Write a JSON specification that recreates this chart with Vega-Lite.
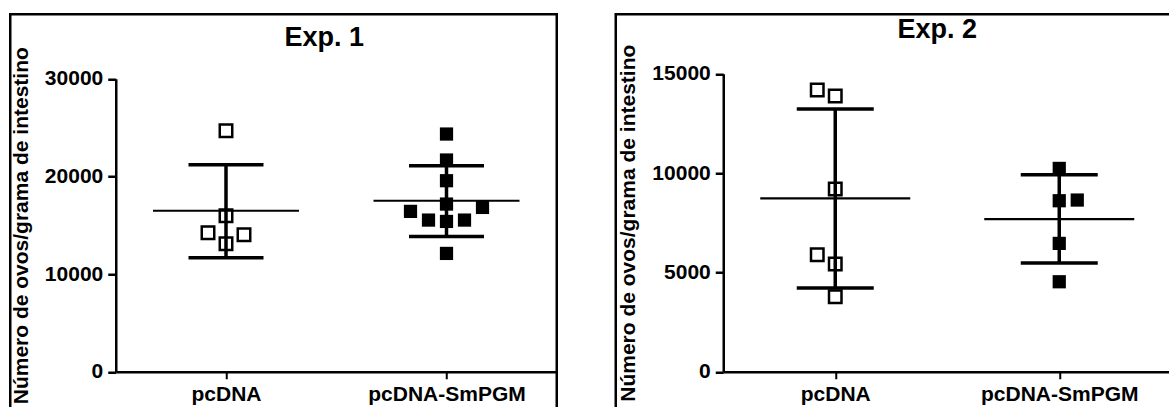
{
  "$schema": "https://vega.github.io/schema/vega-lite/v6.json",
  "background": "white",
  "padding": {"left": 8.25, "top": 12.25, "right": 0, "bottom": 0},
  "datasets": {
    "points": [
      {"exp": "Exp. 1", "group": "pcDNA", "eggs": 24676, "slot": 0},
      {"exp": "Exp. 1", "group": "pcDNA", "eggs": 15973, "slot": 0},
      {"exp": "Exp. 1", "group": "pcDNA", "eggs": 14232, "slot": -1},
      {"exp": "Exp. 1", "group": "pcDNA", "eggs": 14027, "slot": 1},
      {"exp": "Exp. 1", "group": "pcDNA", "eggs": 13106, "slot": 0},
      {"exp": "Exp. 1", "group": "pcDNA-SmPGM", "eggs": 24340, "slot": 0},
      {"exp": "Exp. 1", "group": "pcDNA-SmPGM", "eggs": 21680, "slot": 0},
      {"exp": "Exp. 1", "group": "pcDNA-SmPGM", "eggs": 19560, "slot": 0},
      {"exp": "Exp. 1", "group": "pcDNA-SmPGM", "eggs": 17170, "slot": 0},
      {"exp": "Exp. 1", "group": "pcDNA-SmPGM", "eggs": 16420, "slot": -2},
      {"exp": "Exp. 1", "group": "pcDNA-SmPGM", "eggs": 16825, "slot": 2},
      {"exp": "Exp. 1", "group": "pcDNA-SmPGM", "eggs": 15530, "slot": -1},
      {"exp": "Exp. 1", "group": "pcDNA-SmPGM", "eggs": 15390, "slot": 0},
      {"exp": "Exp. 1", "group": "pcDNA-SmPGM", "eggs": 15530, "slot": 1},
      {"exp": "Exp. 1", "group": "pcDNA-SmPGM", "eggs": 12115, "slot": 0},
      {"exp": "Exp. 2", "group": "pcDNA", "eggs": 14180, "slot": -1},
      {"exp": "Exp. 2", "group": "pcDNA", "eggs": 13878, "slot": 0},
      {"exp": "Exp. 2", "group": "pcDNA", "eggs": 9196, "slot": 0},
      {"exp": "Exp. 2", "group": "pcDNA", "eggs": 5890, "slot": -1},
      {"exp": "Exp. 2", "group": "pcDNA", "eggs": 5420, "slot": 0},
      {"exp": "Exp. 2", "group": "pcDNA", "eggs": 3775, "slot": 0},
      {"exp": "Exp. 2", "group": "pcDNA-SmPGM", "eggs": 10235, "slot": 0},
      {"exp": "Exp. 2", "group": "pcDNA-SmPGM", "eggs": 8608, "slot": 0},
      {"exp": "Exp. 2", "group": "pcDNA-SmPGM", "eggs": 8643, "slot": 1},
      {"exp": "Exp. 2", "group": "pcDNA-SmPGM", "eggs": 6460, "slot": 0},
      {"exp": "Exp. 2", "group": "pcDNA-SmPGM", "eggs": 4530, "slot": 0}
    ],
    "summary": [
      {"exp": "Exp. 1", "group": "pcDNA", "mean": 16485, "lo": 11672, "hi": 21195},
      {"exp": "Exp. 1", "group": "pcDNA-SmPGM", "mean": 17510, "lo": 13855, "hi": 21094},
      {"exp": "Exp. 2", "group": "pcDNA", "mean": 8725, "lo": 4212, "hi": 13222},
      {"exp": "Exp. 2", "group": "pcDNA-SmPGM", "mean": 7685, "lo": 5470, "hi": 9917}
    ]
  },
  "hconcat": [
    {
      "width": 546.5,
      "height": 410,
      "view": {"stroke": "black", "strokeWidth": 2.5, "fill": "white"},
      "encoding": {
        "x": {"field": "group", "type": "nominal",
          "scale": {"type": "point", "domain": ["pcDNA", "pcDNA-SmPGM"], "range": [105.5, 546.5], "padding": 0.5},
          "axis": {"title": "Exp. 1", "titleX": 313.5, "titleY": -326, "titleBaseline": "alphabetic", "titleAlign": "center", "titleFontSize": 27, "titleFontWeight": "bold", "offset": -52.5, "labelAngle": 0, "labelFontSize": 21, "labelFontWeight": "bold"}}
      },
      "layer": [
        {"data": {"name": "summary"}, "transform": [{"filter": "datum.exp === 'Exp. 1'"}],
          "mark": {"type": "rule", "strokeWidth": 3.5, "color": "black"},
          "encoding": {
            "y": {"field": "lo", "type": "quantitative",
              "scale": {"domain": [0, 30000], "range": [357.5, 64.5], "nice": false, "zero": true},
              "axis": {"title": "Número de ovos/grama de intestino", "values": [0, 10000, 20000, 30000], "format": "d", "offset": -105.5, "labelFontSize": 21, "titleFontSize": 21}},
            "y2": {"field": "hi"}}},
        {"data": {"name": "summary"}, "transform": [{"filter": "datum.exp === 'Exp. 1'"}],
          "mark": {"type": "tick", "orient": "horizontal", "size": 146, "thickness": 2.2, "color": "black", "opacity": 1},
          "encoding": {"y": {"field": "mean", "type": "quantitative",
            "axis": {"title": "Número de ovos/grama de intestino", "values": [0, 10000, 20000, 30000], "format": "d", "offset": -105.5, "labelFontSize": 21, "titleFontSize": 21}}}},
        {"data": {"name": "summary"}, "transform": [{"filter": "datum.exp === 'Exp. 1'"}],
          "mark": {"type": "tick", "orient": "horizontal", "size": 75, "thickness": 3.5, "color": "black", "opacity": 1},
          "encoding": {"y": {"field": "lo", "type": "quantitative",
            "axis": {"title": "Número de ovos/grama de intestino", "values": [0, 10000, 20000, 30000], "format": "d", "offset": -105.5, "labelFontSize": 21, "titleFontSize": 21}}}},
        {"data": {"name": "summary"}, "transform": [{"filter": "datum.exp === 'Exp. 1'"}],
          "mark": {"type": "tick", "orient": "horizontal", "size": 75, "thickness": 3.5, "color": "black", "opacity": 1},
          "encoding": {"y": {"field": "hi", "type": "quantitative",
            "axis": {"title": "Número de ovos/grama de intestino", "values": [0, 10000, 20000, 30000], "format": "d", "offset": -105.5, "labelFontSize": 21, "titleFontSize": 21}}}},
        {"data": {"name": "points"}, "transform": [{"filter": "datum.exp === 'Exp. 1' && datum.group === 'pcDNA'"}],
          "mark": {"type": "point", "shape": "square", "size": 156, "filled": false, "strokeWidth": 2.5, "color": "black", "opacity": 1},
          "encoding": {
            "y": {"field": "eggs", "type": "quantitative",
              "axis": {"title": "Número de ovos/grama de intestino", "values": [0, 10000, 20000, 30000], "format": "d", "offset": -105.5, "labelFontSize": 21, "titleFontSize": 21}},
            "xOffset": {"field": "slot", "type": "quantitative", "scale": {"domain": [-2, 2], "range": [-36, 36]}}}},
        {"data": {"name": "points"}, "transform": [{"filter": "datum.exp === 'Exp. 1' && datum.group === 'pcDNA-SmPGM'"}],
          "mark": {"type": "point", "shape": "square", "size": 175, "filled": true, "color": "black", "opacity": 1},
          "encoding": {
            "y": {"field": "eggs", "type": "quantitative",
              "axis": {"title": "Número de ovos/grama de intestino", "values": [0, 10000, 20000, 30000], "format": "d", "offset": -105.5, "labelFontSize": 21, "titleFontSize": 21}},
            "xOffset": {"field": "slot", "type": "quantitative", "scale": {"domain": [-2, 2], "range": [-36, 36]}}}}
      ]
    },
    {
      "width": 560,
      "height": 410,
      "view": {"stroke": "black", "strokeWidth": 2.5, "fill": "white"},
      "encoding": {
        "x": {"field": "group", "type": "nominal",
          "scale": {"type": "point", "domain": ["pcDNA", "pcDNA-SmPGM"], "range": [107.5, 555.5], "padding": 0.5},
          "axis": {"title": "Exp. 2", "titleX": 321, "titleY": -334, "titleBaseline": "alphabetic", "titleAlign": "center", "titleFontSize": 27, "titleFontWeight": "bold", "offset": -52.5, "labelAngle": 0, "labelFontSize": 21, "labelFontWeight": "bold"}}
      },
      "layer": [
        {"data": {"name": "summary"}, "transform": [{"filter": "datum.exp === 'Exp. 2'"}],
          "mark": {"type": "rule", "strokeWidth": 3.5, "color": "black"},
          "encoding": {
            "y": {"field": "lo", "type": "quantitative",
              "scale": {"domain": [0, 15000], "range": [357.5, 59.5], "nice": false, "zero": true},
              "axis": {"title": "Número de ovos/grama de intestino", "values": [0, 5000, 10000, 15000], "format": "d", "offset": -107.5, "labelFontSize": 21, "titleFontSize": 21}},
            "y2": {"field": "hi"}}},
        {"data": {"name": "summary"}, "transform": [{"filter": "datum.exp === 'Exp. 2'"}],
          "mark": {"type": "tick", "orient": "horizontal", "size": 150, "thickness": 2.2, "color": "black", "opacity": 1},
          "encoding": {"y": {"field": "mean", "type": "quantitative",
            "axis": {"title": "Número de ovos/grama de intestino", "values": [0, 5000, 10000, 15000], "format": "d", "offset": -107.5, "labelFontSize": 21, "titleFontSize": 21}}}},
        {"data": {"name": "summary"}, "transform": [{"filter": "datum.exp === 'Exp. 2'"}],
          "mark": {"type": "tick", "orient": "horizontal", "size": 77, "thickness": 3.5, "color": "black", "opacity": 1},
          "encoding": {"y": {"field": "lo", "type": "quantitative",
            "axis": {"title": "Número de ovos/grama de intestino", "values": [0, 5000, 10000, 15000], "format": "d", "offset": -107.5, "labelFontSize": 21, "titleFontSize": 21}}}},
        {"data": {"name": "summary"}, "transform": [{"filter": "datum.exp === 'Exp. 2'"}],
          "mark": {"type": "tick", "orient": "horizontal", "size": 77, "thickness": 3.5, "color": "black", "opacity": 1},
          "encoding": {"y": {"field": "hi", "type": "quantitative",
            "axis": {"title": "Número de ovos/grama de intestino", "values": [0, 5000, 10000, 15000], "format": "d", "offset": -107.5, "labelFontSize": 21, "titleFontSize": 21}}}},
        {"data": {"name": "points"}, "transform": [{"filter": "datum.exp === 'Exp. 2' && datum.group === 'pcDNA'"}],
          "mark": {"type": "point", "shape": "square", "size": 156, "filled": false, "strokeWidth": 2.5, "color": "black", "opacity": 1},
          "encoding": {
            "y": {"field": "eggs", "type": "quantitative",
              "axis": {"title": "Número de ovos/grama de intestino", "values": [0, 5000, 10000, 15000], "format": "d", "offset": -107.5, "labelFontSize": 21, "titleFontSize": 21}},
            "xOffset": {"field": "slot", "type": "quantitative", "scale": {"domain": [-2, 2], "range": [-36, 36]}}}},
        {"data": {"name": "points"}, "transform": [{"filter": "datum.exp === 'Exp. 2' && datum.group === 'pcDNA-SmPGM'"}],
          "mark": {"type": "point", "shape": "square", "size": 175, "filled": true, "color": "black", "opacity": 1},
          "encoding": {
            "y": {"field": "eggs", "type": "quantitative",
              "axis": {"title": "Número de ovos/grama de intestino", "values": [0, 5000, 10000, 15000], "format": "d", "offset": -107.5, "labelFontSize": 21, "titleFontSize": 21}},
            "xOffset": {"field": "slot", "type": "quantitative", "scale": {"domain": [-2, 2], "range": [-36, 36]}}}}
      ]
    }
  ],
  "config": {
    "font": "Liberation Sans",
    "concat": {"spacing": 55.5},
    "axis": {"domainColor": "black", "domainWidth": 2.5, "tickColor": "black", "labelColor": "black", "titleColor": "black",
      "labelFont": "Liberation Sans", "titleFont": "Liberation Sans", "labelFontWeight": "bold", "titleFontWeight": "bold", "grid": false},
    "axisY": {"tickSize": 8, "tickWidth": 2.5, "labelPadding": 5, "titlePadding": 13},
    "axisX": {"tickSize": 7, "tickWidth": 2, "labelPadding": 5}
  }
}
